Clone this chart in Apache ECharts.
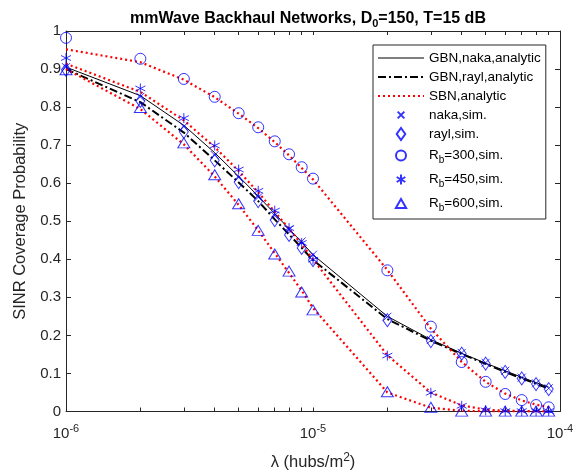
<!DOCTYPE html>
<html>
<head>
<meta charset="utf-8">
<script src="https://cdn.jsdelivr.net/npm/echarts@6/dist/echarts.min.js"></script>
<style>html,body{margin:0;padding:0;background:#fff}#c{width:584px;height:476px}</style>
</head>
<body>
<div id="c"></div>
<script>
// x values (hubs/m^2)
const lambda = [1e-6,2e-6,3e-6,4e-6,5e-6,6e-6,7e-6,8e-6,9e-6,1e-5,2e-5,3e-5,4e-5,5e-5,6e-5,7e-5,8e-5,9e-5];
// analytic curves
const gbnNakaAnalytic = [0.905,0.830,0.752,0.680,0.618,0.566,0.520,0.480,0.445,0.412,0.250,0.189,0.153,0.127,0.107,0.090,0.076,0.064];
const gbnRaylAnalytic = [0.900,0.813,0.733,0.660,0.602,0.553,0.505,0.465,0.430,0.398,0.243,0.186,0.151,0.125,0.104,0.087,0.073,0.060];
const sbn300Analytic = [0.952,0.918,0.872,0.826,0.783,0.745,0.708,0.673,0.640,0.610,0.372,0.218,0.130,0.078,0.047,0.029,0.018,0.011];
const sbn450Analytic = [0.914,0.840,0.765,0.695,0.632,0.576,0.525,0.480,0.440,0.400,0.148,0.050,0.016,0.005,0.002,0.001,0.0005,0.0002];
const sbn600Analytic = [0.900,0.795,0.702,0.618,0.543,0.476,0.416,0.364,0.318,0.272,0.050,0.010,0.002,0.0005,0.0001,0,0,0];
// simulations
const nakaSim = [0.905,0.827,0.749,0.674,0.615,0.563,0.515,0.478,0.447,0.412,0.249,0.188,0.154,0.128,0.107,0.089,0.074,0.061];
const raylSim = [0.898,0.816,0.735,0.660,0.603,0.553,0.503,0.464,0.430,0.398,0.240,0.185,0.152,0.126,0.104,0.087,0.072,0.059];
const rb300Sim = [0.982,0.927,0.874,0.827,0.784,0.747,0.710,0.676,0.642,0.612,0.371,0.223,0.130,0.078,0.046,0.030,0.017,0.011];
const rb450Sim = [0.929,0.849,0.771,0.699,0.636,0.580,0.528,0.482,0.443,0.399,0.147,0.049,0.015,0.003,0.001,0.001,0.001,0.001];
const rb600Sim = [0.898,0.799,0.706,0.622,0.546,0.476,0.414,0.369,0.314,0.267,0.052,0.011,0.001,0.001,0.001,0.001,0.001,0.001];
const yTicks = [0,0.1,0.2,0.3,0.4,0.5,0.6,0.7,0.8,0.9,1];
const xTicks = [1e-6,2e-6,3e-6,4e-6,5e-6,6e-6,7e-6,8e-6,9e-6,1e-5,2e-5,3e-5,4e-5,5e-5,6e-5,7e-5,8e-5,9e-5,1e-4];

const pairs = ys => lambda.map((x,i)=>[x, ys[i]]);
const BLUE = '#0000ff', RED = '#ff0000', AX = '#262626';
const FONT = 'Liberation Sans, Arial, sans-serif';

const chart = echarts.init(document.getElementById('c'), null, {renderer:'canvas'});

function lineSeries(name, ys, color, width, type) {
  return {name, type:'line', data:pairs(ys), symbol:'none', smooth:false, silent:true,
    lineStyle:{color, width, type}, itemStyle:{color}, z:2};
}
function scatterSeries(name, ys, symbol, size) {
  return {name, type:'scatter', data:pairs(ys), symbol, symbolSize:size, silent:true,
    itemStyle:{color:'rgba(0,0,0,0)', borderColor:BLUE, borderWidth:1}, z:3};
}
const crossPath = 'path://M0,0L10,10M0,10L10,0';
const starPath = 'path://M5,0L5,10M0.67,2.5L9.33,7.5M0.67,7.5L9.33,2.5';

const noMarker = {color:'rgba(0,0,0,0)', borderColor:'rgba(0,0,0,0)', borderWidth:0};
const legendItems = [
  {name:'GBN,naka,analytic', itemStyle:noMarker, lineStyle:{width:1}},
  {name:'GBN,rayl,analytic', itemStyle:noMarker, lineStyle:{width:2}},
  {name:'SBN,analytic', itemStyle:noMarker, lineStyle:{width:2}},
  {name:'naka,sim.', icon:'path://M-4,-4M14,14M0,0L10,10M0,10L10,0'},
  {name:'rayl,sim.', icon:'path://M5,0L10,7L5,14L0,7Z'},
  {name:'R{sub|b}=300,sim.', icon:'path://M-1,-1M11,11M0,5A5,5,0,1,1,10,5A5,5,0,1,1,0,5Z'},
  {name:'R{sub|b}=450,sim.', icon:'path://M-1.5,-1M11.5,11M5,0L5,10M0.67,2.5L9.33,7.5M0.67,7.5L9.33,2.5'},
  {name:'R{sub|b}=600,sim.', icon:'path://M-1,-1.5M11,10.2M5,0L10,8.66L0,8.66Z'}
];

const supRich = {fontSize:11, padding:[0,0,9,0], fontFamily:FONT, color:AX};
const subRich = {fontSize:10, padding:[9,0,0,0], lineHeight:20, fontFamily:FONT, color:'#000'};

chart.setOption({
  animation:false,
  backgroundColor:'#fff',
  title:{
    text:'mmWave Backhaul Networks, D{sub|0}=150, T=15 dB',
    left:303, textAlign:'center', top:3,
    textStyle:{fontSize:16, fontWeight:'bold', color:'#000', fontFamily:FONT,
      rich:{sub:{fontSize:11, fontWeight:'bold', padding:[10,0,0,0], fontFamily:FONT, color:'#000'}}}
  },
  grid:{left:66, right:24, top:31, bottom:61, show:false},
  legend:{
    orient:'vertical', left:373, top:45,
    padding:[6,5,6,4], itemWidth:46, itemHeight:12, itemGap:5,
    borderColor:AX, borderWidth:1, backgroundColor:'#fff',
    textStyle:{fontSize:13.5, color:'#000', fontFamily:FONT, rich:{sub:subRich}},
    selectedMode:false,
    data:legendItems
  },
  xAxis:[{
    type:'log', logBase:10, min:1e-6, max:1e-4, position:'bottom',
    name:'λ (hubs/m{sup|2})', nameLocation:'middle', nameGap:40,
    nameTextStyle:{fontSize:16.5, color:AX, fontFamily:FONT, rich:{sup:{fontSize:12, padding:[0,0,10,0], fontFamily:FONT, color:AX}}},
    axisLine:{show:true, onZero:false, lineStyle:{color:AX, width:1}},
    axisTick:{show:true, inside:true, length:4, customValues:xTicks, lineStyle:{color:AX}},
    minorTick:{show:false},
    splitLine:{show:false},
    axisLabel:{margin:12, fontSize:15, color:AX, fontFamily:FONT,
      formatter:v => '10{sup|' + Math.round(Math.log10(v)) + '}',
      rich:{sup:supRich}}
  },{
    type:'log', logBase:10, min:1e-6, max:1e-4, position:'top',
    axisLine:{show:true, onZero:false, lineStyle:{color:AX, width:1}},
    axisTick:{show:true, inside:true, length:4, customValues:xTicks, lineStyle:{color:AX}},
    axisLabel:{show:false}, splitLine:{show:false}
  }],
  yAxis:[{
    type:'value', min:0, max:1, interval:0.1, position:'left',
    name:'SINR Coverage Probability', nameLocation:'middle', nameGap:37,
    nameTextStyle:{fontSize:16.5, color:AX, fontFamily:FONT},
    axisLine:{show:true, onZero:false, lineStyle:{color:AX, width:1}},
    axisTick:{show:true, inside:true, length:5, customValues:yTicks, lineStyle:{color:AX}},
    splitLine:{show:false},
    axisLabel:{margin:5, fontSize:15, color:AX, fontFamily:FONT, customValues:yTicks}
  },{
    type:'value', min:0, max:1, interval:0.1, position:'right',
    axisLine:{show:true, onZero:false, lineStyle:{color:AX, width:1}},
    axisTick:{show:true, inside:true, length:5, lineStyle:{color:AX}},
    axisLabel:{show:false}, splitLine:{show:false}
  }],
  series:[
    lineSeries('GBN,naka,analytic', gbnNakaAnalytic, '#000', 1, 'solid'),
    lineSeries('GBN,rayl,analytic', gbnRaylAnalytic, '#000', 2, [8,3,2,3]),
    lineSeries('SBN,analytic', sbn300Analytic, RED, 2.2, [2,3]),
    lineSeries('SBN450', sbn450Analytic, RED, 2.2, [2,3]),
    lineSeries('SBN600', sbn600Analytic, RED, 2.2, [2,3]),
    scatterSeries('naka,sim.', nakaSim, crossPath, 8),
    scatterSeries('rayl,sim.', raylSim, 'diamond', [9,13]),
    scatterSeries('R{sub|b}=300,sim.', rb300Sim, 'circle', 11),
    scatterSeries('R{sub|b}=450,sim.', rb450Sim, starPath, 10),
    scatterSeries('R{sub|b}=600,sim.', rb600Sim, 'triangle', [12,10])
  ]
});
</script>
</body>
</html>
